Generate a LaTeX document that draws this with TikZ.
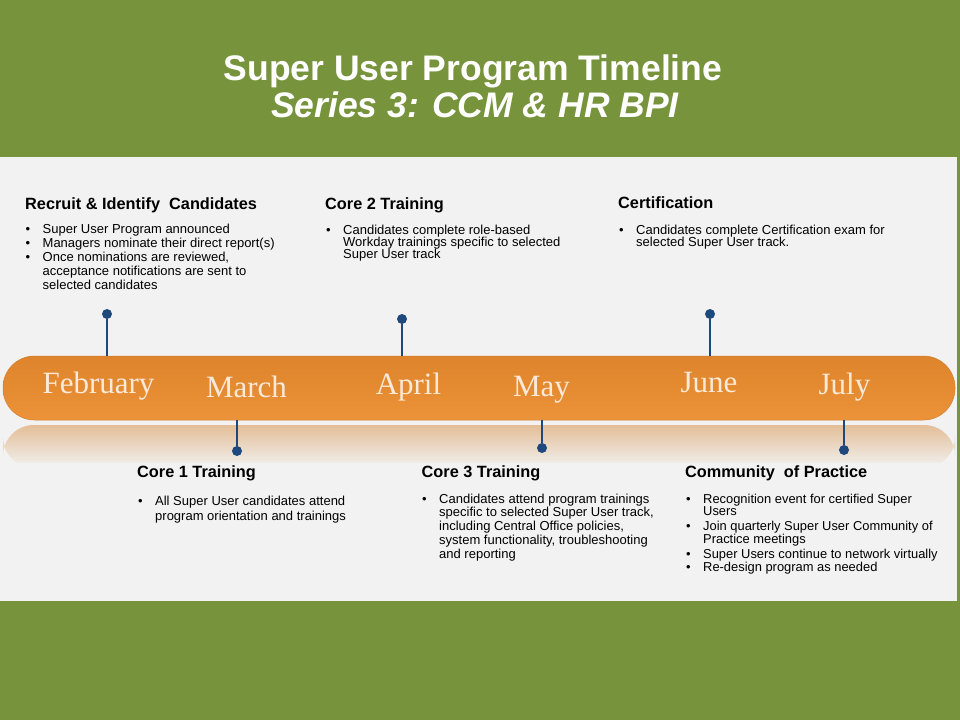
\documentclass[tikz,border=0pt]{standalone}
\usepackage{fontspec}
\setmainfont{Liberation Sans}
\newfontfamily\monthfont{Liberation Serif}
\definecolor{bggreen}{HTML}{77933C}
\definecolor{panel}{HTML}{F2F2F2}
\definecolor{bartop}{HTML}{DD842C}
\definecolor{barbot}{HTML}{EC9339}
\definecolor{baredge}{HTML}{D27D2C}
\definecolor{refl}{HTML}{E3BE98}
\definecolor{pinblue}{HTML}{1F497D}
\definecolor{monthcol}{HTML}{FCE9D8}
\newcommand{\bulitem}[1]{\makebox[17pt][l]{\textbullet}#1}
\newcommand{\contline}[1]{\hspace*{17pt}#1}
\tikzset{
  titletext/.style={anchor=base, text=white, inner sep=0pt, font=\fontsize{35.5}{40}\selectfont\bfseries},
  month/.style={anchor=base, text=monthcol, inner sep=0pt, font=\fontsize{31}{34}\selectfont\monthfont},
  heading/.style={anchor=base west, inner sep=0pt, text=black, font=\fontsize{16.3}{19}\selectfont\bfseries},
  body/.style={anchor=north west, inner sep=0pt, align=left, text=black},
  dot/.style={circle, fill=pinblue, inner sep=0pt, minimum size=10pt},
  pin/.style={draw=pinblue, line width=2pt}
}
\begin{document}
\begin{tikzpicture}[x=1pt,y=-1pt]
\useasboundingbox (0,0) rectangle (960,720);
\fill[bggreen] (0,0) rectangle (960,720);
\fill[panel] (0,157) rectangle (957,601);
% title
\node[titletext] (title1) at (473,80) {Super User Program Timeline};
\node[titletext, font=\fontsize{35.5}{40}\selectfont\bfseries\itshape] (title2) at (475,117) {Series 3: CCM \& HR BPI};
% reflection
\begin{scope}
\clip (0,424) rectangle (960,462);
\shade[top color=refl, bottom color=panel, rounded corners=31pt] (3,425) rectangle (955,468);
\end{scope}
% bar
\shade[top color=bartop, bottom color=barbot, rounded corners=31.5pt] (3,356) rectangle (955,420);
\draw[baredge, line width=0.5pt, rounded corners=31.5pt] (3,356) rectangle (955,420);
% months
\node[month] (feb) at (98.5,393) {February};
\node[month] (mar) at (246.5,397) {March};
\node[month] (apr) at (408.5,394) {April};
\node[month] (may) at (541.5,396) {May};
\node[month] (jun) at (709,392) {June};
\node[month] (jul) at (844.5,394) {July};
% pins above
\node[dot] (febdot) at (107,314) {};
\coordinate (febbar) at (107,356);
\draw[pin] (febdot) -- (febbar);
\node[dot] (aprdot) at (402,319) {};
\coordinate (aprbar) at (402,356);
\draw[pin] (aprdot) -- (aprbar);
\node[dot] (jundot) at (710,314) {};
\coordinate (junbar) at (710,356);
\draw[pin] (jundot) -- (junbar);
% pins below
\node[dot] (mardot) at (237,451) {};
\coordinate (marbar) at (237,420);
\draw[pin] (marbar) -- (mardot);
\node[dot] (maydot) at (542,448) {};
\coordinate (maybar) at (542,420);
\draw[pin] (maybar) -- (maydot);
\node[dot] (juldot) at (844,450) {};
\coordinate (julbar) at (844,420);
\draw[pin] (julbar) -- (juldot);
% headings
\node[heading] (h1) at (25,209) {Recruit \& Identify\ \ Candidates};
\node[heading] (h2) at (325,209) {Core 2\ Training};
\node[heading] (h3) at (618,208) {Certification};
\node[heading] (h4) at (137,477) {Core 1\ Training};
\node[heading] (h5) at (421.5,477) {Core 3\ Training};
\node[heading] (h6) at (685,477) {Community\ \ of Practice};
% bodies
\node[body, font=\fontsize{13}{14.2}\selectfont] (b1) at (25.5,223.5) {\bulitem{Super User Program announced}\\
\bulitem{Managers nominate their direct report(s)}\\
\bulitem{Once nominations are reviewed,}\\
\contline{acceptance notifications are sent to}\\
\contline{selected candidates}};
\node[body, font=\fontsize{13}{12.4}\selectfont] (b2) at (326,224.5) {\bulitem{Candidates complete role-based}\\
\contline{Workday trainings specific to selected}\\
\contline{Super User track}};
\node[body, font=\fontsize{13}{12.2}\selectfont] (b3) at (619,224.5) {\bulitem{Candidates complete Certification exam for}\\
\contline{selected Super User track.}};
\node[body, font=\fontsize{13}{15.3}\selectfont] (b4) at (138,496) {\bulitem{All Super User candidates attend}\\
\contline{program orientation and trainings}};
\node[body, font=\fontsize{13}{13.8}\selectfont] (b5) at (422,493.5) {\bulitem{Candidates attend program trainings}\\
\contline{specific to selected Super User track,}\\
\contline{including Central Office policies,}\\
\contline{system functionality, troubleshooting}\\
\contline{and reporting}};
\node[body, font=\fontsize{12.9}{12}\selectfont] (b6) at (686,494) {\bulitem{Recognition event for certified Super}\\
\contline{Users}\\[2.5pt]
\bulitem{Join quarterly Super User Community of}\\
\contline{Practice meetings}\\[2.5pt]
\bulitem{Super Users continue to network virtually}\\[0pt]
\bulitem{Re-design program as needed}};
\end{tikzpicture}
\end{document}
